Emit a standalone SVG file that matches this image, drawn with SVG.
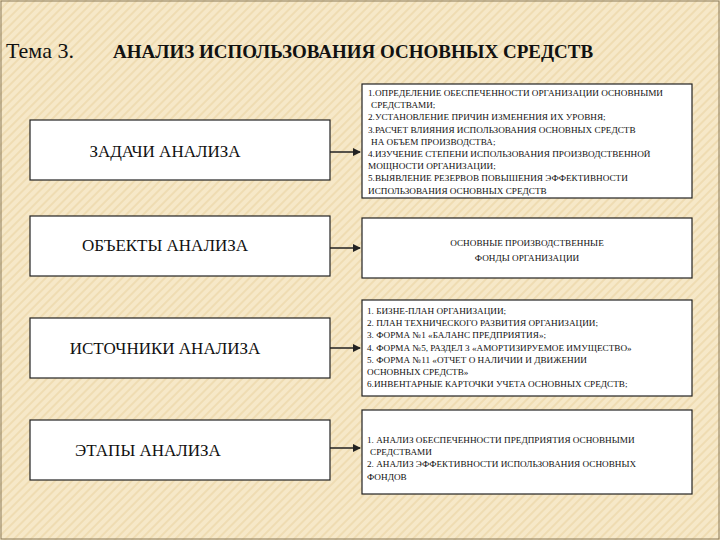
<svg xmlns="http://www.w3.org/2000/svg" width="720" height="540" viewBox="0 0 720 540">
<defs>
<pattern id="st" width="6" height="6" patternUnits="userSpaceOnUse" patternTransform="rotate(45)"><rect width="6" height="6" fill="#f6e8c8"/><rect width="2" height="6" fill="#efdcb2"/></pattern>
<marker id="ah" markerWidth="8" markerHeight="8" refX="7" refY="4" orient="auto" markerUnits="userSpaceOnUse"><path d="M0,0 L8,4 L0,8 z" fill="#222"/></marker>
</defs>
<style>
text{font-family:"Liberation Serif","Times New Roman","DejaVu Serif",serif}
.b{fill:#fff;stroke:#222;stroke-width:1.2}
.l{font-size:17px;fill:#111}
.s{font-size:9.2px;fill:#111}
.c{stroke:#222;stroke-width:1.5;fill:none;marker-end:url(#ah)}
</style>
<rect width="720" height="540" fill="url(#st)"/>
<rect x="1" y="1" width="718" height="538" fill="none" stroke="#8a7a5a" stroke-width="1"/>
<text x="6" y="58" font-size="22" fill="#111">Тема 3.</text>
<text x="113" y="58" font-size="19" font-weight="bold" fill="#111">АНАЛИЗ ИСПОЛЬЗОВАНИЯ ОСНОВНЫХ СРЕДСТВ</text>
<g id="n1"><rect class="b" x="30" y="120" width="300" height="60"/><text class="l" x="165" y="157" text-anchor="middle">ЗАДАЧИ АНАЛИЗА</text></g>
<g id="n2"><rect class="b" x="30" y="216" width="300" height="60"/><text class="l" x="165" y="251" text-anchor="middle">ОБЪЕКТЫ АНАЛИЗА</text></g>
<g id="n3"><rect class="b" x="30" y="318" width="300" height="60"/><text class="l" x="165" y="354" text-anchor="middle">ИСТОЧНИКИ АНАЛИЗА</text></g>
<g id="n4"><rect class="b" x="30" y="420" width="300" height="60"/><text class="l" x="148" y="456" text-anchor="middle">ЭТАПЫ АНАЛИЗА</text></g>
<g id="r1"><rect class="b" x="362" y="84" width="330" height="114"/>
<text class="s" x="368" y="96"><tspan x="368">1.ОПРЕДЕЛЕНИЕ ОБЕСПЕЧЕННОСТИ ОРГАНИЗАЦИИ ОСНОВНЫМИ</tspan><tspan x="371" dy="12.2">СРЕДСТВАМИ;</tspan><tspan x="368" dy="12.2">2.УСТАНОВЛЕНИЕ ПРИЧИН ИЗМЕНЕНИЯ ИХ УРОВНЯ;</tspan><tspan x="368" dy="12.2">3.РАСЧЕТ ВЛИЯНИЯ ИСПОЛЬЗОВАНИЯ ОСНОВНЫХ СРЕДСТВ</tspan><tspan x="371" dy="12.2">НА ОБЪЕМ ПРОИЗВОДСТВА;</tspan><tspan x="368" dy="12.2">4.ИЗУЧЕНИЕ СТЕПЕНИ ИСПОЛЬЗОВАНИЯ ПРОИЗВОДСТВЕННОЙ</tspan><tspan x="368" dy="12.2">МОЩНОСТИ ОРГАНИЗАЦИИ;</tspan><tspan x="368" dy="12.2">5.ВЫЯВЛЕНИЕ РЕЗЕРВОВ ПОВЫШЕНИЯ ЭФФЕКТИВНОСТИ</tspan><tspan x="368" dy="12.2">ИСПОЛЬЗОВАНИЯ ОСНОВНЫХ СРЕДСТВ</tspan></text></g>
<g id="r2"><rect class="b" x="362" y="218" width="330" height="60"/>
<text class="s" x="527" y="246" text-anchor="middle" font-size="10"><tspan x="527">ОСНОВНЫЕ ПРОИЗВОДСТВЕННЫЕ</tspan><tspan x="527" dy="15">ФОНДЫ ОРГАНИЗАЦИИ</tspan></text></g>
<g id="r3"><rect class="b" x="362" y="300" width="330" height="96"/>
<text class="s" x="367" y="314"><tspan x="367">1. БИЗНЕ-ПЛАН ОРГАНИЗАЦИИ;</tspan><tspan x="367" dy="12.2">2. ПЛАН ТЕХНИЧЕСКОГО РАЗВИТИЯ ОРГАНИЗАЦИИ;</tspan><tspan x="367" dy="12.2">3. ФОРМА №1 «БАЛАНС ПРЕДПРИЯТИЯ»;</tspan><tspan x="367" dy="12.2">4. ФОРМА №5, РАЗДЕЛ 3 «АМОРТИЗИРУЕМОЕ ИМУЩЕСТВО»</tspan><tspan x="367" dy="12.2">5. ФОРМА  №11 «ОТЧЕТ О НАЛИЧИИ И ДВИЖЕНИИ</tspan><tspan x="367" dy="12.2">ОСНОВНЫХ СРЕДСТВ»</tspan><tspan x="367" dy="12.2">6.ИНВЕНТАРНЫЕ КАРТОЧКИ УЧЕТА ОСНОВНЫХ СРЕДСТВ;</tspan></text></g>
<g id="r4"><rect class="b" x="362" y="410" width="330" height="84"/>
<text class="s" x="367" y="443"><tspan x="367">1. АНАЛИЗ ОБЕСПЕЧЕННОСТИ ПРЕДПРИЯТИЯ ОСНОВНЫМИ</tspan><tspan x="370" dy="12.2">СРЕДСТВАМИ</tspan><tspan x="367" dy="12.2">2. АНАЛИЗ ЭФФЕКТИВНОСТИ ИСПОЛЬЗОВАНИЯ ОСНОВНЫХ</tspan><tspan x="367" dy="12.2">ФОНДОВ</tspan></text></g>
<g id="connectors">
<line class="c" x1="330" y1="152" x2="360" y2="152"/>
<line class="c" x1="330" y1="248" x2="360" y2="248"/>
<line class="c" x1="330" y1="348" x2="360" y2="348"/>
<line class="c" x1="330" y1="448" x2="360" y2="448"/>
</g>
</svg>
